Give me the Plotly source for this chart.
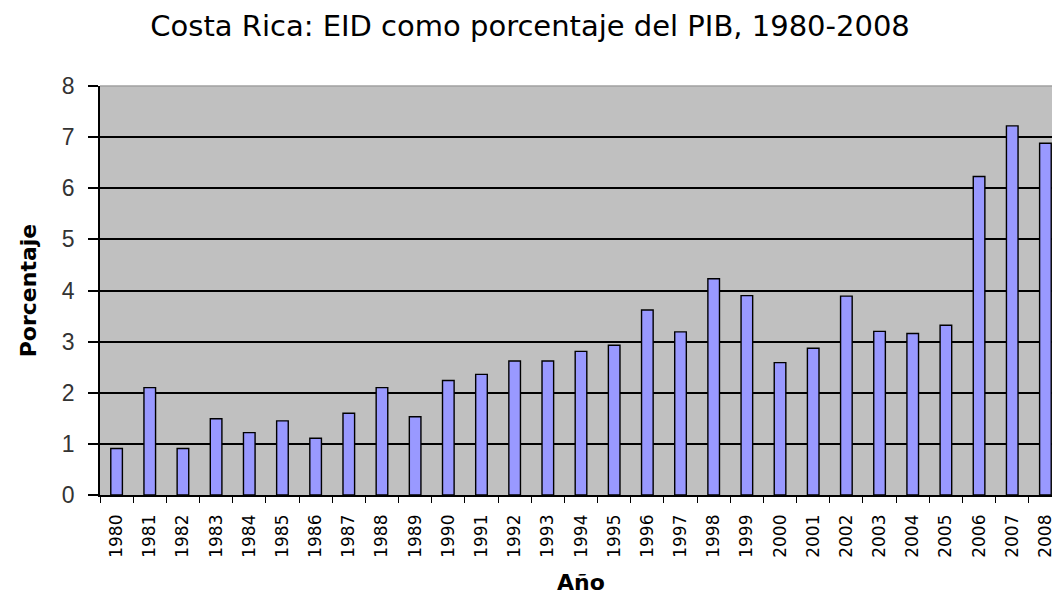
import plotly.graph_objects as go

# Años y porcentaje de la EID sobre el PIB
anios = [str(a) for a in range(1980, 2009)]
porcentaje = [
    0.91, 2.10, 0.91, 1.49, 1.22, 1.45, 1.11, 1.60, 2.10, 1.53,
    2.24, 2.36, 2.62, 2.62, 2.81, 2.93, 3.62, 3.19, 4.23, 3.90,
    2.59, 2.87, 3.89, 3.20, 3.16, 3.32, 6.23, 7.22, 6.88,
]
ticks_y = [0, 1, 2, 3, 4, 5, 6, 7, 8]

WIDE = "DejaVu Sans, Verdana, sans-serif"
ARIAL = "Liberation Sans, Arial, sans-serif"

fig = go.Figure(
    go.Bar(
        x=anios,
        y=porcentaje,
        width=0.35,
        marker=dict(color="#9999FF", line=dict(color="#000000", width=1.4)),
    )
)

# El cuerpo de la página añade ~8 px de margen: se compensa en los márgenes.
fig.update_layout(
    width=1060,
    height=598,
    paper_bgcolor="#FFFFFF",
    plot_bgcolor="#C0C0C0",
    showlegend=False,
    margin=dict(l=92, r=6, t=78, b=111),
    title=dict(
        text="Costa Rica: EID como porcentaje del PIB, 1980-2008",
        x=0.4925, xanchor="center", y=0.97, yanchor="middle",
        font=dict(family=WIDE, size=29, color="#000000"),
    ),
    font=dict(family=WIDE, color="#000000"),
)

fig.update_xaxes(
    type="category",
    range=[-0.5, 28.5],
    tickangle=-90,
    tickfont=dict(family=WIDE, size=17, color="#000000"),
    ticks="outside", ticklen=6, tickcolor="#000000", tickwidth=1.3,
    tickson="boundaries",
    ticklabelstandoff=11,
    showline=True, linecolor="#000000", linewidth=1.5,
    showgrid=False,
    title=dict(text="<b>Año</b>", font=dict(family=WIDE, size=22), standoff=18),
)

fig.update_yaxes(
    range=[0, 8],
    tickvals=ticks_y,
    tickfont=dict(family=ARIAL, size=23, color="#333333"),
    ticks="outside", ticklen=10, tickcolor="#000000", tickwidth=1.5,
    ticklabelstandoff=9,
    showline=True, linecolor="#000000", linewidth=1.5,
    showgrid=True, gridcolor="#000000", gridwidth=1.5,
    zeroline=False,
    title=dict(text="<b>Porcentaje</b>", font=dict(family=WIDE, size=22), standoff=19),
)

# Borde superior gris claro del área de trazado
fig.add_shape(
    type="line", xref="paper", yref="paper", x0=0, x1=1, y0=1, y1=1,
    line=dict(color="#A0A0A0", width=1.5),
)

fig.write_html("out.html")
